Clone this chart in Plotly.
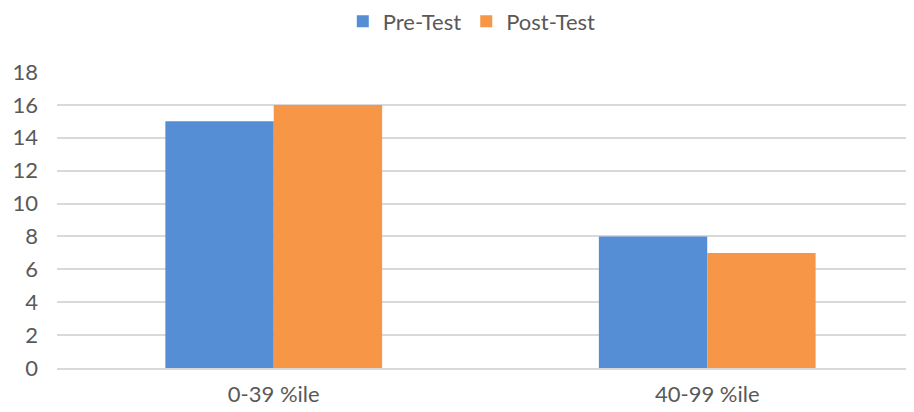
import plotly.graph_objects as go

categories = ["0-39 %ile", "40-99 %ile"]
pre_test = [15, 8]
post_test = [16, 7]
y_ticks = [0, 2, 4, 6, 8, 10, 12, 14, 16, 18]

fig = go.Figure()
fig.add_trace(go.Bar(name="Pre-Test", x=categories, y=pre_test, marker_color="#558ED5",
                     marker_line_width=0))
fig.add_trace(go.Bar(name="Post-Test", x=categories, y=post_test, marker_color="#F79646",
                     marker_line_width=0))

fig.update_layout(
    width=906, height=404,
    barmode="group", bargap=0.5, bargroupgap=0,
    paper_bgcolor="white", plot_bgcolor="white",
    margin=dict(l=49, r=0, t=64, b=44),
    font=dict(family="Lato, sans-serif", size=22, color="#595959"),
    legend=dict(orientation="h", x=0.484, xanchor="center", y=0.967, yref="container",
                yanchor="middle", font=dict(size=22, color="#595959"), itemwidth=30,
                traceorder="normal"),
    xaxis=dict(showline=True, linecolor="#D9D9D9", linewidth=2, ticks="",
               range=[-0.5, 1.477],
               tickfont=dict(size=22), ticklabelstandoff=6, automargin=False),
    yaxis=dict(range=[0, 18], tickvals=y_ticks, showgrid=True, gridcolor="#D9D9D9",
               gridwidth=1.5, zeroline=False, ticks="", tickfont=dict(size=22),
               ticklabelstandoff=18, automargin=False),
)

fig.write_html("out.html")
